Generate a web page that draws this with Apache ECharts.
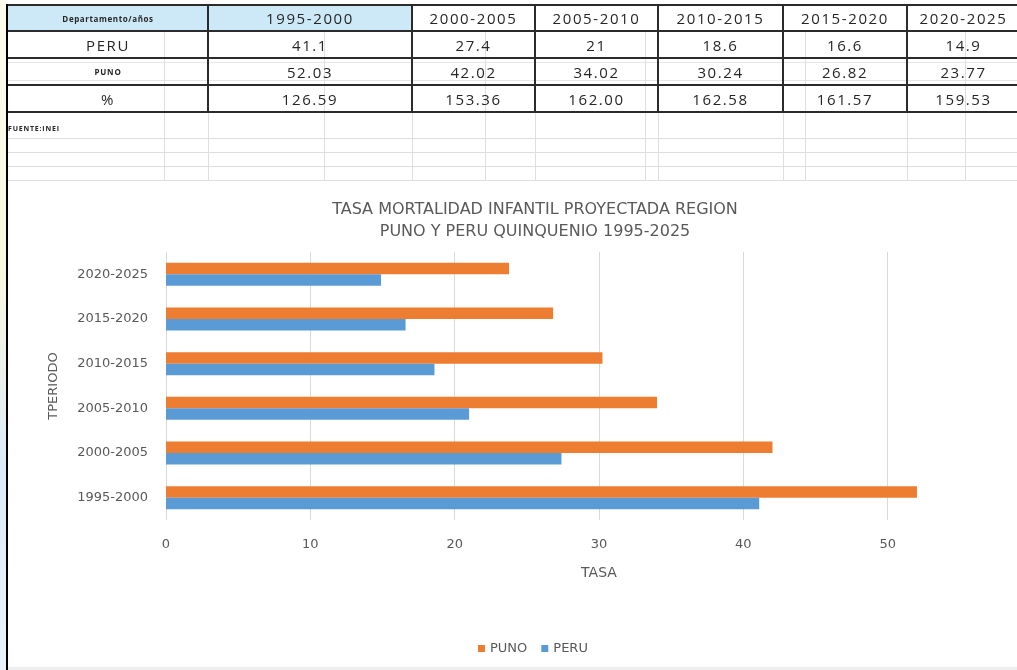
<!DOCTYPE html>
<html>
<head>
<meta charset="utf-8">
<script src="https://cdn.jsdelivr.net/npm/echarts@6/dist/echarts.min.js"></script>
<style>
  html, body { margin: 0; padding: 0; background: #fff; overflow: hidden; }
  #page { position: relative; width: 1017px; height: 670px; overflow: hidden; }
  #chart { position: absolute; left: 0; top: 0; width: 1060px; height: 670px; }
  #strip { position: absolute; left: 0; top: 0; width: 6px; height: 670px;
    background: linear-gradient(#fdfbec, #fbf8e0 40%, #dcebf8 70%, #eaf3fb); }
  #edge { position: absolute; left: 6px; top: 4px; width: 2px; height: 666px; background: #000; }
  #bottom { position: absolute; left: 8px; top: 667px; width: 1009px; height: 3px; background: #eee; }
  #sheet { position: absolute; left: 0; top: 0; width: 1017px; height: 185px; font-family: 'Open Sans', sans-serif; color: #262626; }
  .cell { position: absolute; display: flex; align-items: center; justify-content: center; font-size: 15px; letter-spacing: 1.6px; white-space: nowrap; }
  .hl { position: absolute; height: 2px; background: #2b2b2b; }
  .vl { position: absolute; width: 2px; background: #2b2b2b; }
  .fh { position: absolute; height: 1px; background: #dedede; }
  .fv { position: absolute; width: 1px; background: #dedede; }
</style>
</head>
<body>
<div id="page">
  <div id="chart"></div>
  <div id="sheet"></div>
  <div id="strip"></div>
  <div id="edge"></div>
  <div id="bottom"></div>
</div>
<script>
// data read from the sheet / chart
const periods = ['1995-2000', '2000-2005', '2005-2010', '2010-2015', '2015-2020', '2020-2025'];
const peru = [41.1, 27.4, 21, 18.6, 16.6, 14.9];
const puno = [52.03, 42.02, 34.02, 30.24, 26.82, 23.77];
const pct = ['126.59', '153.36', '162.00', '162.58', '161.57', '159.53'];
const xTicks = [0, 10, 20, 30, 40, 50, 60];

// spreadsheet part on top
const sheet = document.getElementById('sheet');
const colX = [8, 208, 412, 535, 658, 783, 907, 1020];
const rowY = [5, 31, 58, 85, 112];

function add(cls, css, text) {
  const d = document.createElement('div');
  d.className = cls;
  Object.assign(d.style, css);
  if (text !== undefined) d.textContent = text;
  sheet.appendChild(d);
  return d;
}

// faint cell grid
[138, 152, 166, 180].forEach(y => add('fh', { left: '8px', top: y + 'px', width: '1009px' }));
[62, 80].forEach(y => add('fh', { left: '8px', top: y + 'px', width: '1009px', background: '#e6e6e6' }));
[164, 208, 324, 412, 485, 535, 645, 658, 783, 805, 907, 965].forEach(x =>
  add('fv', { left: x + 'px', top: '31px', height: '150px' }));

// header fill
add('cell', { left: '8px', top: '5px', width: '404px', height: '26px', background: '#cde9f8' });

// labels column
const rowNames = [
  ['Departamento/años', { fontSize: '8px', fontWeight: 'bold', letterSpacing: '0.6px' }],
  ['PERU', {}],
  ['PUNO', { fontSize: '8px', fontWeight: 'bold', letterSpacing: '0.8px' }],
  ['%', {}]
];
rowNames.forEach((r, i) => {
  add('cell', Object.assign({ left: '8px', top: rowY[i] + 'px', width: '200px', height: (rowY[i + 1] - rowY[i]) + 'px' }, r[1]), r[0]);
});
const rows = [periods, peru.map(String), puno.map(v => v.toFixed(2)), pct];
rows.forEach((vals, i) => {
  vals.forEach((v, j) => {
    add('cell', { left: colX[j + 1] + 'px', top: rowY[i] + 'px', width: (colX[j + 2] - colX[j + 1]) + 'px', height: (rowY[i + 1] - rowY[i]) + 'px' }, v);
  });
});

// heavy borders
rowY.forEach(y => add('hl', { left: '8px', top: (y - 1) + 'px', width: '1009px' }));
colX.slice(1, 7).forEach(x => add('vl', { left: (x - 1) + 'px', top: '4px', height: '109px' }));

add('cell', { left: '8px', top: '121px', height: '14px', fontSize: '7px', fontWeight: 'bold', letterSpacing: '0.8px' }, 'FUENTE:INEI');

// chart
const chart = echarts.init(document.getElementById('chart'));
const txt = '#595959';
const font = 'DejaVu Sans';
chart.setOption({
  backgroundColor: 'transparent',
  textStyle: { fontFamily: font },
  title: {
    text: 'TASA MORTALIDAD INFANTIL PROYECTADA REGION\nPUNO Y PERU QUINQUENIO 1995-2025',
    left: 530, top: 194, textAlign: 'center',
    textStyle: { color: txt, fontSize: 16, fontWeight: 'normal', lineHeight: 22, fontFamily: font }
  },
  legend: {
    data: ['PUNO', 'PERU'],
    left: 473, top: 637,
    itemWidth: 7, itemHeight: 7, itemGap: 14, icon: 'rect',
    textStyle: { color: txt, fontSize: 13, fontFamily: font }
  },
  grid: { left: 166, top: 252, width: 866, height: 268 },
  xAxis: {
    type: 'value', min: xTicks[0], max: xTicks[xTicks.length - 1], interval: 10,
    name: 'TASA', nameLocation: 'middle', nameGap: 46,
    nameTextStyle: { color: txt, fontSize: 14, fontFamily: font },
    axisLine: { show: false }, axisTick: { show: false },
    axisLabel: { color: txt, fontSize: 13, margin: 18, fontFamily: font },
    splitLine: { lineStyle: { color: '#d9d9d9', width: 1 } }
  },
  yAxis: {
    type: 'category', data: periods,
    name: 'TPERIODO', nameLocation: 'middle', nameGap: 106, nameRotate: 90,
    nameTextStyle: { color: txt, fontSize: 13, fontFamily: font },
    axisLine: { show: false }, axisTick: { show: false },
    axisLabel: { color: txt, fontSize: 13, margin: 18, fontFamily: font }
  },
  series: [
    { name: 'PUNO', type: 'bar', data: puno, barWidth: 11.5, barGap: '0%', itemStyle: { color: '#ed7d31' } },
    { name: 'PERU', type: 'bar', data: peru, barWidth: 11.5, barGap: '0%', itemStyle: { color: '#5b9bd5' } }
  ]
});
</script>
</body>
</html>
